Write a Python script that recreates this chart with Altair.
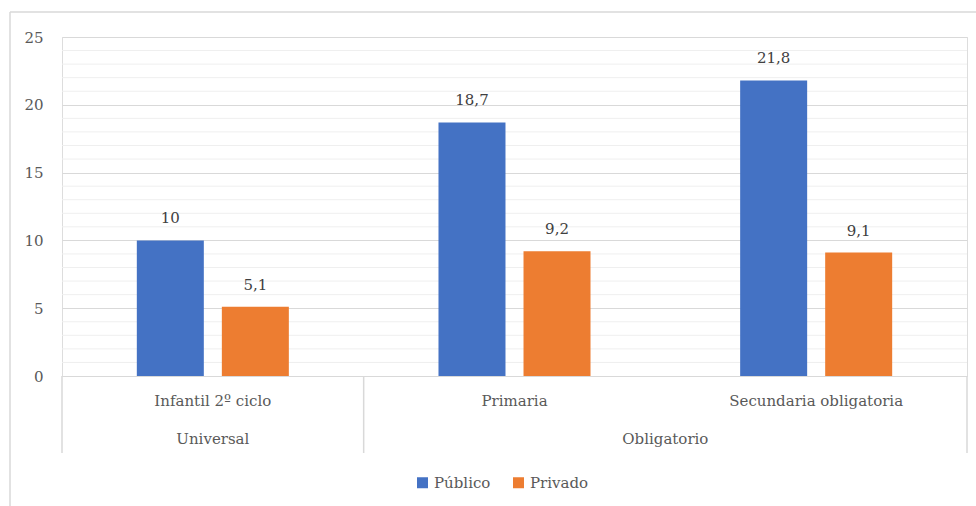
import altair as alt
import pandas as pd

# Ratio alumnos/profesor por nivel educativo y titularidad
niveles = ["Infantil 2º ciclo", "Primaria", "Secundaria obligatoria"]
grupos = ["Universal", "Obligatorio", "Obligatorio"]
publico = [10, 18.7, 21.8]
privado = [5.1, 9.2, 9.1]
series = ["Público", "Privado"]
colores = ["#4472C4", "#ED7D31"]
y_ticks = [0, 5, 10, 15, 20, 25]
y_minor = [v for v in range(0, 26) if v % 5 != 0]

W, H = 905, 339
FONT = "DejaVu Serif"
FS = 15
GRAY = "#595959"


def etiqueta(v):
    return f"{v:g}".replace(".", ",")


rows = []
for i, n in enumerate(niveles):
    for s, vals in zip(series, [publico, privado]):
        rows.append({"Nivel": n, "Titularidad": s, "Valor": vals[i], "Etiqueta": etiqueta(vals[i])})
df = pd.DataFrame(rows)

df_niveles = pd.DataFrame({"Nivel": niveles})
df_minor = pd.DataFrame({"v": y_minor})

# Group spans on the second axis level, in category units
spans = []
for g in dict.fromkeys(grupos):
    idx = [i for i, x in enumerate(grupos) if x == g]
    spans.append({"Grupo": g, "ini": idx[0], "fin": idx[-1] + 1, "centro": (idx[0] + idx[-1] + 1) / 2})
df_grupos = pd.DataFrame(spans)
# separators: start of each group and end of the axis
sep_pos = sorted({s["ini"] for s in spans} | {len(niveles)})
df_sep = pd.DataFrame({"pos": sep_pos})

x_nom = alt.X("Nivel:N", sort=niveles, axis=None,
              scale=alt.Scale(paddingInner=0, paddingOuter=0))
y_q = alt.Y("Valor:Q", scale=alt.Scale(domain=[0, 25], nice=False),
            axis=alt.Axis(values=y_ticks, title=None, domain=False, ticks=False,
                          labelFont=FONT, labelFontSize=FS, labelColor=GRAY,
                          labelPadding=19, gridColor="#d9d9d9", gridWidth=1))

minor = alt.Chart(df_minor).mark_rule(color="#efefef", strokeWidth=1).encode(
    y=alt.Y("v:Q"), x=alt.value(0), x2=alt.value(W)
)

bars = alt.Chart(df).mark_bar().encode(
    x=x_nom,
    xOffset=alt.XOffset("Titularidad:N", sort=series,
                        scale=alt.Scale(paddingInner=0.212, paddingOuter=0.88)),
    y=y_q,
    color=alt.Color("Titularidad:N", sort=series,
                    scale=alt.Scale(domain=series, range=colores),
                    legend=alt.Legend(title=None, orient="none", direction="horizontal",
                                      legendX=353, legendY=438, symbolType="square",
                                      symbolSize=121, symbolStrokeWidth=0,
                                      labelFont=FONT, labelFontSize=FS, labelColor=GRAY,
                                      labelOffset=4, columnPadding=20, padding=0)),
)

valores = alt.Chart(df).mark_text(font=FONT, fontSize=FS, color="#404040",
                                  baseline="middle", dy=-22).encode(
    x=x_nom,
    xOffset=alt.XOffset("Titularidad:N", sort=series),
    y="Valor:Q",
    text="Etiqueta:N",
)

cat_labels = alt.Chart(df_niveles).mark_text(font=FONT, fontSize=FS, color=GRAY,
                                             baseline="middle").encode(
    x=x_nom, y=alt.value(H + 25), text="Nivel:N"
)

main = alt.layer(minor, bars, valores, cat_labels)

x_pos = alt.Scale(domain=[0, len(niveles)], nice=False, zero=False)
seps = alt.Chart(df_sep).mark_rule(color="#d9d9d9", strokeWidth=1.5).encode(
    x=alt.X("pos:Q", scale=x_pos, axis=None), y=alt.value(H), y2=alt.value(H + 77)
)
grp_labels = alt.Chart(df_grupos).mark_text(font=FONT, fontSize=FS, color=GRAY,
                                           baseline="middle").encode(
    x=alt.X("centro:Q", scale=x_pos, axis=None), y=alt.value(H + 63), text="Grupo:N"
)

# outer frame (top and left edges)
frame_top = alt.Chart(df_niveles.head(1)).mark_rule(color="#d9d9d9", strokeWidth=1.5).encode(
    x=alt.value(-52), x2=alt.value(W + 9), y=alt.value(-25)
)
frame_left = alt.Chart(df_niveles.head(1)).mark_rule(color="#d9d9d9", strokeWidth=1.5).encode(
    x=alt.value(-52), y=alt.value(-25), y2=alt.value(H + 130)
)

overlay = alt.layer(seps, grp_labels, frame_top, frame_left)

chart = alt.layer(main, overlay).resolve_scale(x="independent").properties(
    width=W, height=H,
    autosize=alt.AutoSizeParams(type="none"),
    padding={"left": 62, "top": 37, "right": 9, "bottom": 130},
).configure_view(stroke=None).configure(background="white", font=FONT)

chart.save("out.html", embed_options={"renderer": "svg", "actions": False})
